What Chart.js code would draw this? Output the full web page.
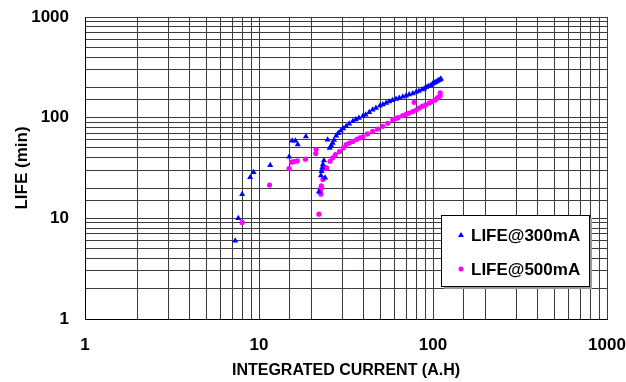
<!DOCTYPE html>
<html lang="en">
<head>
  <meta charset="UTF-8">
  <title>LIFE vs INTEGRATED CURRENT</title>
  <style>
    body {
      margin: 0;
      background-color: #ffffff;
    }
    .container {
      width: 626px;
      height: 382px;
    }
  </style>
</head>
<body>
<div class="container">
  <canvas id="myChart" width="626" height="382"></canvas>
</div>

<script src="https://cdn.jsdelivr.net/npm/chart.js"></script>
<script>
  // Series labels
  const seriesNames = ['LIFE@300mA', 'LIFE@500mA'];

  // LIFE@300mA : integrated current (A.H) and life (min)
  const current300 = [7.3, 7.6, 8.0, 8.9, 9.3, 11.6, 14.9, 15.5, 16.2, 16.7, 18.6,
    22.1, 22.7, 22.9, 23.1, 23.3, 23.6, 24.0, 24.8,
    25.5, 26.0, 26.5, 27.0, 27.8, 28.5, 29.5, 30.5, 31.7, 33.0, 34.6, 36.0, 37.5, 39.5,
    41.0, 43.0, 45.0, 47.0, 49.5, 51.5, 53.8, 56.0, 58.5, 61.4, 64.0, 67.0, 70.0, 73.0,
    76.5, 80.0, 83.0, 86.5, 89.0, 91.3, 94.0, 97.0, 99.6, 102, 104, 106, 108, 110, 111];
  const life300 = [6.0, 10, 17.3, 25.6, 28.7, 33.7, 41, 59, 59, 54, 65,
    18.4, 26.7, 29.4, 31.8, 34.2, 37.5, 25.3, 60.5,
    50, 53, 56, 60, 66, 70, 74, 78, 82, 87, 92, 96, 99, 103,
    107, 113, 120, 125, 131, 135, 140, 145, 149, 153, 157, 161, 165, 170,
    174, 180, 184, 190, 194, 200, 205, 210, 217, 222, 226, 231, 236, 240, 243];

  // LIFE@500mA
  const current500 = [8.0, 11.5, 14.9, 15.4, 15.9, 16.6, 18.5, 21.3, 21.2, 22.1,
    22.5, 22.6, 22.7, 22.8, 22.9, 23.3, 23.5, 24.5,
    24.4, 25.6, 26.5, 27.5, 29.0, 30.5, 31.7, 33.0, 34.6, 36.5, 38.0, 39.5, 42.0, 45.0,
    48.0, 51.5, 55.0, 58.7, 61.0, 63.0, 67.0, 70.0, 73.0, 76.5, 78.0, 80.0, 83.6, 87.0,
    91.0, 95.4, 99.0, 103, 106, 108, 110, 110];
  const life500 = [9.1, 21.4, 31.3, 36.1, 36.6, 37.2, 38.7, 48.2, 44, 11,
    19.4, 18, 17.3, 21, 20.1, 24.3, 25, 31.3,
    31.8, 36.9, 40, 43, 46, 50, 54, 56, 58, 61, 63, 64.5, 69, 73,
    77, 82, 88, 95, 98, 100, 105, 108, 111, 115, 142, 119, 125, 130,
    134, 140, 145, 150, 157, 160, 165, 176];

  // axis tick labels (decades only)
  const decadeTicks = [1, 10, 100, 1000];

  const toPoints = (xs, ys) => xs.map((x, i) => ({x: x, y: ys[i]}));

  const fontMain = 'Liberation Sans, Arial, sans-serif';

  const gridColor = '#3c3c3c';

  function decadeLabel(value) {
    return decadeTicks.includes(Number(value)) ? String(value) : '';
  }

  // legend box drawn inside the plot, like the original
  const insideLegend = {
    id: 'insideLegend',
    afterDraw(chart) {
      const ctx = chart.ctx;
      const bx = 441, by = 215, bw = 148, bh = 71;
      ctx.save();
      ctx.fillStyle = '#9a9a9a';
      ctx.fillRect(bx + 3, by + 3, bw, bh);
      ctx.fillStyle = '#ffffff';
      ctx.fillRect(bx, by, bw, bh);
      ctx.strokeStyle = '#000000';
      ctx.lineWidth = 1;
      ctx.strokeRect(bx + 0.5, by + 0.5, bw, bh);

      ctx.font = 'bold 17px ' + fontMain;
      ctx.textBaseline = 'middle';
      const rows = [235, 269];
      chart.data.datasets.forEach((ds, i) => {
        const y = rows[i];
        ctx.fillStyle = ds.backgroundColor;
        ctx.beginPath();
        if (ds.pointStyle === 'triangle') {
          ctx.moveTo(461, y - 3);
          ctx.lineTo(464, y + 2);
          ctx.lineTo(458, y + 2);
          ctx.closePath();
        } else {
          ctx.arc(461, y, 2.5, 0, Math.PI * 2);
        }
        ctx.fill();
        ctx.fillStyle = '#000000';
        ctx.fillText(ds.label, 471, y + 1);
      });
      ctx.restore();
    }
  };

  const ctx = document.getElementById('myChart').getContext('2d');
  new Chart(ctx, {
    type: 'scatter',
    data: {
      datasets: [{
        label: seriesNames[0],
        data: toPoints(current300, life300),
        backgroundColor: '#0000ff',
        borderColor: '#0000ff',
        pointStyle: 'triangle',
        pointRadius: 3.5,
        borderWidth: 0
      }, {
        label: seriesNames[1],
        data: toPoints(current500, life500),
        backgroundColor: '#ff00ff',
        borderColor: '#ff00ff',
        pointStyle: 'circle',
        pointRadius: 2.6,
        borderWidth: 0
      }]
    },
    options: {
      responsive: false,
      animation: false,
      layout: {
        padding: {top: 17, right: 19, left: 0, bottom: 0}
      },
      plugins: {
        legend: {display: false},
        tooltip: {enabled: false}
      },
      scales: {
        x: {
          type: 'logarithmic',
          min: 1,
          max: 1000,
          afterFit(scale) {
            scale.height = 63;
            scale.paddingLeft = 0;
            scale.paddingRight = 0;
          },
          grid: {color: gridColor, drawTicks: false},
          border: {color: '#000000'},
          ticks: {
            autoSkip: false,
            maxRotation: 0,
            padding: 16,
            color: '#000000',
            font: {family: fontMain, size: 17, weight: 'bold'},
            callback: (value) => decadeLabel(value)
          },
          title: {
            display: true,
            text: 'INTEGRATED CURRENT (A.H)',
            color: '#000000',
            padding: {top: 0, bottom: 2},
            font: {family: fontMain, size: 16, weight: 'bold'}
          }
        },
        y: {
          type: 'logarithmic',
          min: 1,
          max: 1000,
          afterFit(scale) {
            scale.width = 85;
            scale.paddingTop = 0;
            scale.paddingBottom = 0;
          },
          grid: {color: gridColor, drawTicks: false},
          border: {color: '#000000'},
          ticks: {
            autoSkip: false,
            padding: 16,
            color: '#000000',
            font: {family: fontMain, size: 17, weight: 'bold'},
            callback: (value) => decadeLabel(value)
          },
          title: {
            display: true,
            text: 'LIFE (min)',
            color: '#000000',
            padding: {top: 12, bottom: 0},
            font: {family: fontMain, size: 17, weight: 'bold'}
          }
        }
      }
    },
    plugins: [insideLegend]
  });
</script>
</body>
</html>
